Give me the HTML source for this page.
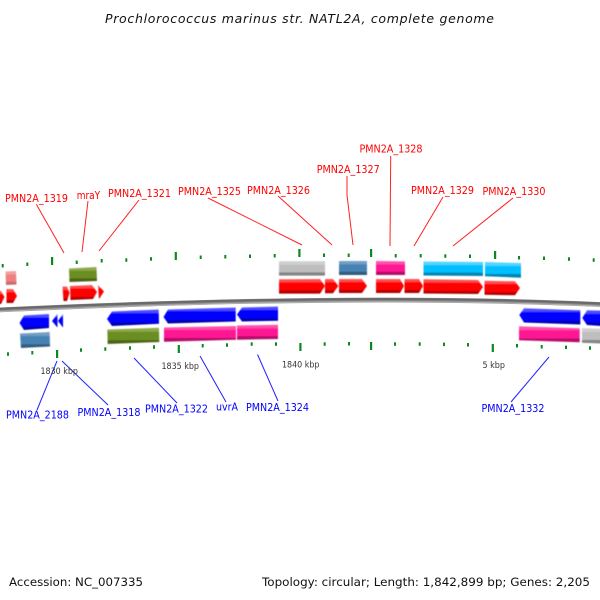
<!DOCTYPE html>
<html><head><meta charset="utf-8"><title>Prochlorococcus marinus str. NATL2A, complete genome</title>
<style>html,body{margin:0;padding:0;background:#fff}svg{display:block}text{font-family:"DejaVu Sans","Liberation Sans",sans-serif}</style>
</head><body>
<svg xmlns="http://www.w3.org/2000/svg" width="600" height="600" viewBox="0 0 600 600">
<defs>
<linearGradient id="r" x1="0" y1="0" x2="0" y2="1"><stop offset="0" stop-color="#ff5a5a"/><stop offset=".22" stop-color="#ff4444"/><stop offset=".24" stop-color="#ff0000"/><stop offset=".78" stop-color="#ff0000"/><stop offset=".8" stop-color="#b80000"/><stop offset="1" stop-color="#b00000"/></linearGradient>
<linearGradient id="b" x1="0" y1="0" x2="0" y2="1"><stop offset="0" stop-color="#5a5aff"/><stop offset=".22" stop-color="#4444ff"/><stop offset=".24" stop-color="#0000ff"/><stop offset=".78" stop-color="#0000ff"/><stop offset=".8" stop-color="#0000b4"/><stop offset="1" stop-color="#0000b0"/></linearGradient>
<linearGradient id="g" x1="0" y1="0" x2="0" y2="1"><stop offset="0" stop-color="#93ad55"/><stop offset=".24" stop-color="#8ca64a"/><stop offset=".26" stop-color="#6b8e23"/><stop offset=".76" stop-color="#6b8e23"/><stop offset=".78" stop-color="#4b6418"/><stop offset="1" stop-color="#4b6418"/></linearGradient>
<linearGradient id="p" x1="0" y1="0" x2="0" y2="1"><stop offset="0" stop-color="#ff58b0"/><stop offset=".24" stop-color="#ff48a8"/><stop offset=".26" stop-color="#ff1493"/><stop offset=".76" stop-color="#ff1493"/><stop offset=".78" stop-color="#b30e68"/><stop offset="1" stop-color="#b30e68"/></linearGradient>
<linearGradient id="s" x1="0" y1="0" x2="0" y2="1"><stop offset="0" stop-color="#77a2c8"/><stop offset=".24" stop-color="#6e9bc2"/><stop offset=".26" stop-color="#4682b4"/><stop offset=".76" stop-color="#4682b4"/><stop offset=".78" stop-color="#315b7e"/><stop offset="1" stop-color="#315b7e"/></linearGradient>
<linearGradient id="c" x1="0" y1="0" x2="0" y2="1"><stop offset="0" stop-color="#5cd6ff"/><stop offset=".24" stop-color="#4cd2ff"/><stop offset=".26" stop-color="#00bfff"/><stop offset=".76" stop-color="#00bfff"/><stop offset=".78" stop-color="#0086b3"/><stop offset="1" stop-color="#0086b3"/></linearGradient>
<linearGradient id="y" x1="0" y1="0" x2="0" y2="1"><stop offset="0" stop-color="#d0d0d0"/><stop offset=".24" stop-color="#cccccc"/><stop offset=".26" stop-color="#bebebe"/><stop offset=".76" stop-color="#bebebe"/><stop offset=".78" stop-color="#858585"/><stop offset="1" stop-color="#858585"/></linearGradient>
<linearGradient id="k" x1="0" y1="0" x2="0" y2="1"><stop offset="0" stop-color="#f2a0a0"/><stop offset=".24" stop-color="#f2a0a0"/><stop offset=".26" stop-color="#ee8080"/><stop offset=".76" stop-color="#ee8080"/><stop offset=".78" stop-color="#c86a6a"/><stop offset="1" stop-color="#c86a6a"/></linearGradient>
<filter id="soft" x="-5%" y="-5%" width="110%" height="110%"><feGaussianBlur stdDeviation="0.4"/></filter>
</defs>

<text x="105" y="23" font-size="12.500" font-style="italic" fill="#111" textLength="389" lengthAdjust="spacing">Prochlorococcus marinus str. NATL2A, complete genome</text>

<!-- backbone -->
<path d="M-2 310 Q350 293.300 602 304.600" fill="none" stroke="#8c8c8c" stroke-width="4.800"/>
<path d="M-2 309 Q350 292.300 602 303.600" fill="none" stroke="#6a6a6a" stroke-width="2.200"/>
<path d="M-2 311.700 Q350 295 602 306.300" fill="none" stroke="#b4b4b4" stroke-width="1"/>

<!-- ticks -->
<g fill="#0a8a1e">
<rect x="1.700" y="264" width="2" height="3.500"/><rect x="26.300" y="262.500" width="2" height="3.500"/><rect x="51" y="257" width="2.200" height="8"/><rect x="75.700" y="260.500" width="2" height="3.500"/><rect x="100.700" y="259" width="2" height="3.500"/><rect x="125.300" y="258.300" width="2" height="3.500"/><rect x="150" y="257.200" width="2" height="3.500"/><rect x="174.700" y="252" width="2.200" height="8"/><rect x="199.700" y="255.500" width="2" height="3.500"/><rect x="224.300" y="255" width="2" height="3.500"/><rect x="249" y="254.500" width="2" height="3.500"/><rect x="273.700" y="254" width="2" height="3.500"/><rect x="298.300" y="249" width="2.200" height="8"/><rect x="323" y="253.500" width="2" height="3.500"/><rect x="347.700" y="253.500" width="2" height="3.500"/><rect x="370" y="249" width="2.200" height="8"/><rect x="394.700" y="254" width="2" height="3.500"/><rect x="419.700" y="254" width="2" height="3.500"/><rect x="444.300" y="254.300" width="2" height="3.500"/><rect x="469" y="254.500" width="2" height="3.500"/><rect x="494" y="251" width="2.200" height="8"/><rect x="518" y="256" width="2" height="3.500"/><rect x="543" y="256.500" width="2" height="3.500"/><rect x="568" y="257.300" width="2" height="3.500"/><rect x="592.700" y="258.300" width="2" height="3.500"/>
<rect x="7" y="352.300" width="2" height="3.500"/><rect x="31.300" y="351" width="2" height="3.500"/><rect x="56" y="350" width="2.200" height="8"/><rect x="80" y="348.300" width="2" height="3.500"/><rect x="104.300" y="347.300" width="2" height="3.500"/><rect x="129" y="346.300" width="2" height="3.500"/><rect x="153" y="345.300" width="2" height="3.500"/><rect x="177.700" y="345" width="2.200" height="8"/><rect x="201.700" y="344" width="2" height="3.500"/><rect x="226" y="343.300" width="2" height="3.500"/><rect x="250.700" y="342.300" width="2" height="3.500"/><rect x="275" y="342.300" width="2" height="3.500"/><rect x="299.300" y="343" width="2.200" height="8"/><rect x="323.700" y="342.300" width="2" height="3.500"/><rect x="348" y="342" width="2" height="3.500"/><rect x="370" y="342" width="2.200" height="8"/><rect x="394" y="342.300" width="2" height="3.500"/><rect x="418.700" y="342.300" width="2" height="3.500"/><rect x="443" y="342.600" width="2" height="3.500"/><rect x="467" y="343" width="2" height="3.500"/><rect x="491.700" y="344" width="2.200" height="8"/><rect x="516" y="344" width="2" height="3.500"/><rect x="540.700" y="345" width="2" height="3.500"/><rect x="565" y="345.600" width="2" height="3.500"/><rect x="589" y="346.300" width="2" height="3.500"/>
</g>

<!-- genes -->
<g filter="url(#soft)">
<polygon points="-2,291 1,291 4.500,297 1,304 -2,304" fill="url(#r)"/>
<polygon points="6.500,289 13,289 17,296 13,303 6.500,303" fill="url(#r)"/>
<polygon points="5.500,271.500 16,271 16.500,284.500 6,285" fill="url(#k)"/>
<polygon points="69,268.500 96.500,267 97,281 69.500,282" fill="url(#g)"/>
<polygon points="62.500,286.500 67,286.500 69.500,293 67,301 63.500,301" fill="url(#r)"/>
<polygon points="70,286 92,285 97,292 93,299 70.500,300" fill="url(#r)"/>
<polygon points="98,285 104,291.500 99,299" fill="url(#r)"/>
<polygon points="279,261.300 325,261.300 325,275.600 279,275.600" fill="url(#y)"/>
<polygon points="339,261 367,261 367,275 339,275" fill="url(#s)"/>
<polygon points="376,261 405,261.400 405,275 376,275" fill="url(#p)"/>
<polygon points="279,279.300 320,279 325,286 320,293.600 279,293.600" fill="url(#r)"/>
<polygon points="325,279 333,279 338.300,286 333,293.300 325,293.300" fill="url(#r)"/>
<polygon points="339,279 362,279 367,286 362,293 339,293" fill="url(#r)"/>
<polygon points="376,279 400,279 404,286 400,293 376,293" fill="url(#r)"/>
<polygon points="404.500,279 419,279 423,286 419,293 404.500,293" fill="url(#r)"/>
<polygon points="423.500,279.300 478,280 483,287 478,294 423.500,293.500" fill="url(#r)"/>
<polygon points="484.500,280.700 515,281.300 520,288 515,295.300 484.500,294.700" fill="url(#r)"/>
<polygon points="423.500,261.500 483,262 483,276 423.500,275.500" fill="url(#c)"/>
<polygon points="485,262 521,263 521,277.700 485,276.300" fill="url(#c)"/>

<polygon points="24,315.500 49,314 49,328 24,330 19.500,323" fill="url(#b)"/>
<polygon points="57.500,314 57.500,327.500 52,321" fill="url(#b)"/>
<polygon points="63,314 63,327.500 58,321" fill="url(#b)"/>
<polygon points="20,333.500 49.700,332 50,346.500 21,348" fill="url(#s)"/>
<polygon points="112,311.500 158.700,309.500 159,323.700 112,326 107,319" fill="url(#b)"/>
<polygon points="107.300,329.500 159,327.700 159.300,342 107.700,344" fill="url(#g)"/>
<polygon points="168,309.500 235.700,307.500 235.700,321.500 168,323.500 163.500,317" fill="url(#b)"/>
<polygon points="164,327.500 236,326 236,339.800 164,341.700" fill="url(#p)"/>
<polygon points="242,307.500 278,306.500 278,320.700 242,321.500 237,314.500" fill="url(#b)"/>
<polygon points="237,325.500 278,324.700 278,339 237,339.700" fill="url(#p)"/>
<polygon points="524,308.300 580.300,310.300 580.300,324.500 524,322.500 519.300,315" fill="url(#b)"/>
<polygon points="587,310.300 602,310.700 602,326 587,325 582.300,318" fill="url(#b)"/>
<polygon points="519,326.300 579.700,328.300 579.700,342.300 519,340.300" fill="url(#p)"/>
<polygon points="582,328.300 602,328.700 602,343.500 582,342.700" fill="url(#y)"/>
</g>

<!-- connectors -->
<g fill="none" stroke="#ff2020" stroke-width="1">
<path d="M36.300 204.300L64 253"/><path d="M88 201L82 252"/><path d="M139 200L99 251"/><path d="M208 198L302 245"/><path d="M278 196L332 245"/><path d="M347 176V195L353 245"/><path d="M390.700 156L390 246"/><path d="M443 197L414 246"/><path d="M513 198L453 246"/>
</g>
<g fill="none" stroke="#2020ff" stroke-width="1">
<path d="M57 361L37 410"/><path d="M62 361L108 405"/><path d="M134 358L177 403"/><path d="M200 356L226 402"/><path d="M257.500 354.500L278 401"/><path d="M549 357L511 402"/>
</g>

<!-- labels -->
<g font-size="11" fill="#ff0000">
<text x="5" y="202" textLength="63" lengthAdjust="spacingAndGlyphs">PMN2A_1319</text>
<text x="76.700" y="199" textLength="23.500" lengthAdjust="spacingAndGlyphs">mraY</text>
<text x="108" y="197" textLength="63" lengthAdjust="spacingAndGlyphs">PMN2A_1321</text>
<text x="178" y="195" textLength="63" lengthAdjust="spacingAndGlyphs">PMN2A_1325</text>
<text x="247" y="194" textLength="63" lengthAdjust="spacingAndGlyphs">PMN2A_1326</text>
<text x="316.700" y="173" textLength="63" lengthAdjust="spacingAndGlyphs">PMN2A_1327</text>
<text x="359.500" y="152.700" textLength="63" lengthAdjust="spacingAndGlyphs">PMN2A_1328</text>
<text x="411" y="194" textLength="63" lengthAdjust="spacingAndGlyphs">PMN2A_1329</text>
<text x="482.500" y="195" textLength="63" lengthAdjust="spacingAndGlyphs">PMN2A_1330</text>
</g>
<g font-size="11" fill="#0000ff">
<text x="6" y="418.500" textLength="63" lengthAdjust="spacingAndGlyphs">PMN2A_2188</text>
<text x="77.500" y="416" textLength="63" lengthAdjust="spacingAndGlyphs">PMN2A_1318</text>
<text x="145" y="412.700" textLength="63" lengthAdjust="spacingAndGlyphs">PMN2A_1322</text>
<text x="216" y="410.700" textLength="22" lengthAdjust="spacingAndGlyphs">uvrA</text>
<text x="246" y="411" textLength="63" lengthAdjust="spacingAndGlyphs">PMN2A_1324</text>
<text x="481.500" y="412" textLength="63" lengthAdjust="spacingAndGlyphs">PMN2A_1332</text>
</g>
<g font-size="8.500" fill="#333">
<text x="40.500" y="374" textLength="37.500" lengthAdjust="spacingAndGlyphs">1830 kbp</text>
<text x="161.500" y="369" textLength="37.500" lengthAdjust="spacingAndGlyphs">1835 kbp</text>
<text x="282" y="367.500" textLength="37.500" lengthAdjust="spacingAndGlyphs">1840 kbp</text>
<text x="482.500" y="368" textLength="22.500" lengthAdjust="spacingAndGlyphs">5 kbp</text>
</g>
<g font-size="11.500" fill="#111">
<text x="9" y="586" textLength="134" lengthAdjust="spacingAndGlyphs">Accession: NC_007335</text>
<text x="262" y="586" textLength="328" lengthAdjust="spacingAndGlyphs">Topology: circular; Length: 1,842,899 bp; Genes: 2,205</text>
</g>
</svg>
</body></html>
